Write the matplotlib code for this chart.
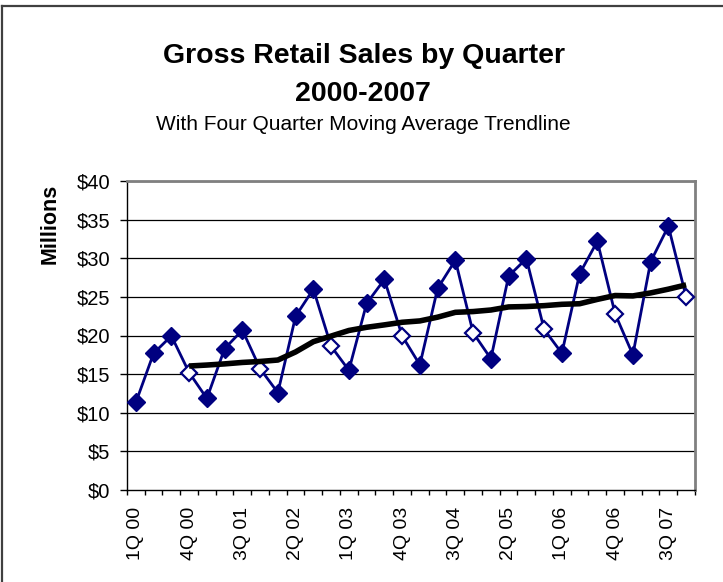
import matplotlib
matplotlib.use("Agg")
import matplotlib.pyplot as plt
import numpy as np
import pandas as pd
from matplotlib.lines import Line2D

plt.rcParams['font.family'] = ['Liberation Sans', 'DejaVu Sans']

quarters = [f"{q}Q {y:02d}" for y in range(0, 8) for q in range(1, 5)]
sales = [11.35, 17.7, 19.95, 15.2,
         11.85, 18.3, 20.7, 15.7,
         12.6, 22.5, 26.0, 18.6,
         15.5, 24.15, 27.25, 19.95,
         16.2, 26.1, 29.75, 20.35,
         17.0, 27.7, 29.95, 20.8,
         17.7, 28.0, 32.2, 22.8,
         17.5, 29.55, 34.15, 25.0]
yticks = [0, 5, 10, 15, 20, 25, 30, 35, 40]

s = pd.Series(sales)
ma = s.rolling(4).mean()
x = np.arange(len(sales))

W, H = 723, 582
fig = plt.figure(figsize=(W/100, H/100), dpi=100)
ax = fig.add_axes([127/W, 1-490/H, (695-127)/W, (490-181)/H])

navy = '#000080'
ax.plot(x, sales, color=navy, lw=2, zorder=3)
filled = [i for i in x if i % 4 != 3]
hollow = [i for i in x if i % 4 == 3]
ax.plot(x[filled], s[filled], ls='none', marker='D', ms=9, color=navy,
        markeredgecolor=navy, zorder=4)
ax.plot(x[hollow], s[hollow], ls='none', marker='D', ms=8.5,
        markerfacecolor='white', markeredgecolor=navy, markeredgewidth=1.6, zorder=4)
ax.plot(x, ma, color='black', lw=4, zorder=5, solid_capstyle='butt')

ax.set_xlim(-0.5, len(sales) - 0.5)
ax.set_ylim(0, 40)
ax.set_yticks(yticks)
ax.set_yticklabels([f"${v}" for v in yticks], fontsize=14.5)
for v in yticks[1:]:
    ax.axhline(v, color='black', lw=0.9, zorder=1)

ax.set_xticks(np.arange(-0.5, len(sales)), minor=False)
ax.set_xticklabels([])
ax.set_xticks(x[::3], minor=True)
ax.set_xticklabels([quarters[i] for i in x[::3]], minor=True, rotation=90,
                   fontsize=14)
ax.tick_params(axis='x', which='major', length=3.6, direction='out', width=1)
ax.tick_params(axis='x', which='minor', length=0, pad=12)
ax.tick_params(axis='y', length=5, width=1, pad=7)

for sp in ['top', 'right']:
    ax.spines[sp].set_color('#808080')
    ax.spines[sp].set_linewidth(2)
for sp in ['left', 'bottom']:
    ax.spines[sp].set_color('black')
    ax.spines[sp].set_linewidth(1)

fig.text(364/W, 1-62.7/H, "Gross Retail Sales by Quarter", ha='center', va='baseline',
         fontsize=20.5, fontweight='bold')
fig.text(363/W, 1-101/H, "2000-2007", ha='center', va='baseline',
         fontsize=20.5, fontweight='bold')
fig.text(363.5/W, 1-130/H, "With Four Quarter Moving Average Trendline", ha='center',
         va='baseline', fontsize=15)
fig.text(50.5/W, 1-224/H, "Millions", rotation=90, ha='center', va='center',
         fontsize=15.5, fontweight='bold')

# chart-area border: top and left edges only
fig.add_artist(Line2D([1.5/W, 1.0], [1-6/H, 1-6/H], transform=fig.transFigure,
                      color='#404040', lw=1.6))
fig.add_artist(Line2D([1.5/W, 1.5/W], [0.0, 1-6/H], transform=fig.transFigure,
                      color='#404040', lw=1.6))

fig.savefig('out.png', dpi=100)
